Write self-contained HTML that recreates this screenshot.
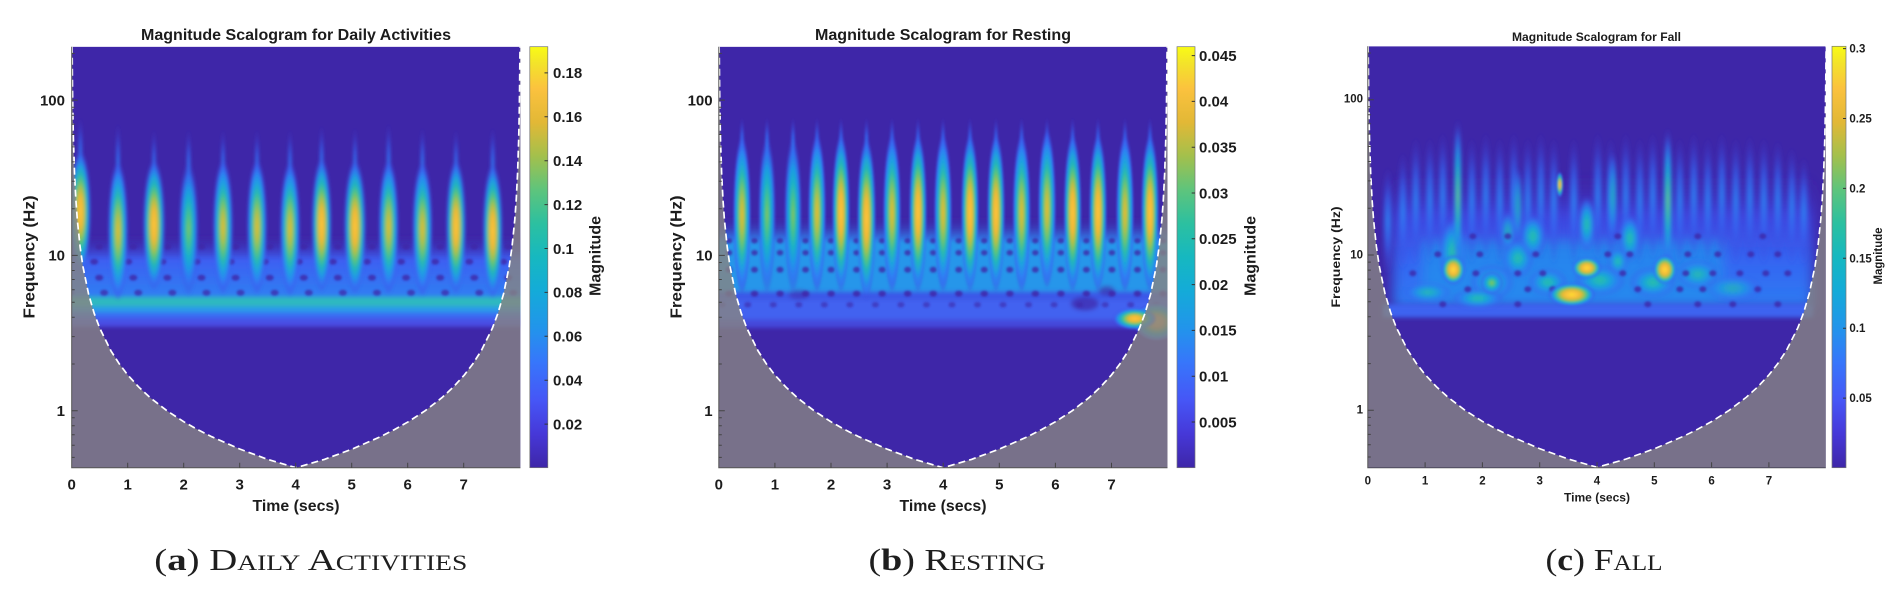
<!DOCTYPE html>
<html><head><meta charset="utf-8">
<style>
html,body{margin:0;padding:0;background:#fff;}
svg{display:block;}
.t{font-family:"Liberation Sans",sans-serif;font-weight:bold;fill:#1c1c1c;}
.cap{font-family:"Liberation Serif",serif;fill:#1e1e1e;}
</style></head><body>
<svg width="1900" height="600" viewBox="0 0 1900 600" xmlns="http://www.w3.org/2000/svg" xmlns:xlink="http://www.w3.org/1999/xlink">
<defs>
<linearGradient id="parula" x1="0" y1="1" x2="0" y2="0">
<stop offset="0" stop-color="#3e26a8"/><stop offset="0.08" stop-color="#4638d8"/><stop offset="0.16" stop-color="#4656f6"/>
<stop offset="0.25" stop-color="#3776fb"/><stop offset="0.33" stop-color="#2294eb"/><stop offset="0.42" stop-color="#14abd8"/>
<stop offset="0.5" stop-color="#16b8c0"/><stop offset="0.58" stop-color="#2cc0a0"/><stop offset="0.66" stop-color="#5ec47c"/>
<stop offset="0.74" stop-color="#a3c04c"/><stop offset="0.82" stop-color="#e2b836"/><stop offset="0.9" stop-color="#fbc23e"/>
<stop offset="0.96" stop-color="#f3e32a"/><stop offset="1" stop-color="#f9fb15"/>
</linearGradient>
<radialGradient id="gHot">
<stop offset="0" stop-color="#fcc63c"/><stop offset="0.24" stop-color="#f2b936"/><stop offset="0.38" stop-color="#b2c048"/>
<stop offset="0.5" stop-color="#5cc47c"/><stop offset="0.62" stop-color="#22b5bb"/><stop offset="0.75" stop-color="#1f9be5"/>
<stop offset="0.88" stop-color="#3470f5" stop-opacity="0.75"/><stop offset="1" stop-color="#3e3fd8" stop-opacity="0"/>
</radialGradient>
<radialGradient id="gWarm">
<stop offset="0" stop-color="#e4bd34"/><stop offset="0.2" stop-color="#b8c046"/><stop offset="0.36" stop-color="#6cc474"/>
<stop offset="0.5" stop-color="#2bbaae"/><stop offset="0.64" stop-color="#1ea3df"/><stop offset="0.79" stop-color="#2d82f4"/>
<stop offset="0.9" stop-color="#3a60f2" stop-opacity="0.65"/><stop offset="1" stop-color="#3e3fd8" stop-opacity="0"/>
</radialGradient>
<radialGradient id="gCool">
<stop offset="0" stop-color="#86c35e"/><stop offset="0.2" stop-color="#4cc387"/><stop offset="0.4" stop-color="#1fb3c4"/>
<stop offset="0.6" stop-color="#1e98e7"/><stop offset="0.78" stop-color="#3174f5" stop-opacity="0.8"/><stop offset="1" stop-color="#3e3fd8" stop-opacity="0"/>
</radialGradient>
<radialGradient id="gCyan">
<stop offset="0" stop-color="#2cc0a0"/><stop offset="0.25" stop-color="#1fb3c4"/><stop offset="0.5" stop-color="#1e98e7"/><stop offset="0.78" stop-color="#3174f5" stop-opacity="0.7"/><stop offset="1" stop-color="#3e3fd8" stop-opacity="0"/>
</radialGradient>
<radialGradient id="gTip">
<stop offset="0" stop-color="#2a8cf0"/><stop offset="0.45" stop-color="#3468f4" stop-opacity="0.75"/><stop offset="1" stop-color="#3e3fd8" stop-opacity="0"/>
</radialGradient>
<radialGradient id="gBlob">
<stop offset="0" stop-color="#fadf2c"/><stop offset="0.2" stop-color="#fbc43c"/><stop offset="0.38" stop-color="#e6b936"/>
<stop offset="0.52" stop-color="#97c252"/><stop offset="0.64" stop-color="#3dc09a"/><stop offset="0.76" stop-color="#1ba6dc"/>
<stop offset="0.88" stop-color="#3270f5" stop-opacity="0.7"/><stop offset="1" stop-color="#3e3fd8" stop-opacity="0"/>
</radialGradient>
<linearGradient id="upA" x1="0" y1="0" x2="0" y2="1">
<stop offset="0" stop-color="#3e26a8" stop-opacity="0"/><stop offset="0.4" stop-color="#3d5ff2"/><stop offset="1" stop-color="#2f7ff3"/>
</linearGradient>
<linearGradient id="upB" x1="0" y1="0" x2="0" y2="1">
<stop offset="0" stop-color="#3e26a8" stop-opacity="0"/><stop offset="1" stop-color="#2f86f0"/>
</linearGradient>
<linearGradient id="upC" x1="0" y1="0" x2="0" y2="1">
<stop offset="0" stop-color="#3e26a8" stop-opacity="0"/><stop offset="0.3" stop-color="#3f4ae8" stop-opacity="0.85"/><stop offset="0.65" stop-color="#3466f2"/><stop offset="1" stop-color="#2c7cf2"/>
</linearGradient>
<filter id="b2" filterUnits="userSpaceOnUse" x="-60" y="-60" width="600" height="560"><feGaussianBlur stdDeviation="2"/></filter>
<filter id="b1" filterUnits="userSpaceOnUse" x="-60" y="-60" width="600" height="560"><feGaussianBlur stdDeviation="1"/></filter>
<filter id="b15" filterUnits="userSpaceOnUse" x="-60" y="-60" width="600" height="560"><feGaussianBlur stdDeviation="1.5"/></filter>
<filter id="b6" filterUnits="userSpaceOnUse" x="-60" y="-60" width="600" height="560"><feGaussianBlur stdDeviation="6"/></filter>
<clipPath id="clipP"><rect x="0" y="0" width="448.7" height="421"/></clipPath>
<clipPath id="clipC"><rect x="0" y="0" width="458" height="421.4"/></clipPath>
<pattern id="dotsA" patternUnits="userSpaceOnUse" x="10.45" y="195" width="34.1" height="60">
<ellipse cx="17" cy="5" rx="4" ry="3" fill="#3e26a8" opacity="0.8"/>
<ellipse cx="12" cy="20" rx="4" ry="3" fill="#3e26a8" opacity="0.8"/>
<ellipse cx="17" cy="36" rx="4" ry="3" fill="#3e26a8" opacity="0.8"/>
<ellipse cx="22" cy="51" rx="4" ry="3" fill="#3e26a8" opacity="0.75"/>
</pattern>
<pattern id="dotsB" patternUnits="userSpaceOnUse" x="22.93" y="188" width="25.53" height="76">
<ellipse cx="12.77" cy="6" rx="3.3" ry="2.8" fill="#3e26a8" opacity="0.8"/>
<ellipse cx="12.77" cy="18" rx="3.3" ry="2.8" fill="#3e26a8" opacity="0.8"/>
<ellipse cx="12.77" cy="35" rx="3.5" ry="3" fill="#3e26a8" opacity="0.8"/>
<ellipse cx="12.77" cy="59" rx="3.8" ry="3" fill="#3e26a8" opacity="0.85"/>
<ellipse cx="6" cy="70" rx="3.5" ry="2.8" fill="#3e26a8" opacity="0.6"/>
</pattern>
<path id="coiFill" d="M0,0 L0.43,0 L0.5,10 L0.8,41.7 L1.12,64.3 L1.68,91.7 L2.8,126.1 L4.2,153.5 L5.6,172.9 L8.4,200.2 L11.2,219.6 L16.8,247 L22.4,266.4 L28,281.4 L39.2,304.1 L47.6,317.2 L56,328.2 L67.2,340.5 L78.4,350.9 L95.2,364 L112,375 L126,382.9 L140,390 L168,402.3 L196,412.7 L224.35,421 L252.7,412.7 L280.7,402.3 L308.7,390 L322.7,382.9 L336.7,375 L353.5,364 L370.3,350.9 L381.5,340.5 L392.7,328.2 L401.1,317.2 L409.5,304.1 L420.7,281.4 L426.3,266.4 L431.9,247 L437.5,219.6 L440.3,200.2 L443.1,172.9 L444.5,153.5 L445.9,126.1 L447.02,91.7 L447.58,64.3 L447.9,41.7 L448.2,10 L448.27,0 L448.7,0 L448.7,421 L0,421 Z"/>
<polyline id="coiLine" points="0.3,0 0.5,10 0.8,41.7 1.12,64.3 1.68,91.7 2.8,126.1 4.2,153.5 5.6,172.9 8.4,200.2 11.2,219.6 16.8,247 22.4,266.4 28,281.4 39.2,304.1 47.6,317.2 56,328.2 67.2,340.5 78.4,350.9 95.2,364 112,375 126,382.9 140,390 168,402.3 196,412.7 224.35,421 252.7,412.7 280.7,402.3 308.7,390 322.7,382.9 336.7,375 353.5,364 370.3,350.9 381.5,340.5 392.7,328.2 401.1,317.2 409.5,304.1 420.7,281.4 426.3,266.4 431.9,247 437.5,219.6 440.3,200.2 443.1,172.9 444.5,153.5 445.9,126.1 447.02,91.7 447.58,64.3 447.9,41.7 448.2,10 448.4,0"/>
<g id="yt">
<path d="M0,53.4h6M0,208.7h6M0,364h6M0,410.7h3M0,398.5h3M0,388.1h3M0,379h3M0,371.1h3M0,317.3h3M0,289.9h3M0,270.5h3M0,255.5h3M0,243.1h3M0,232.8h3M0,223.8h3M0,215.8h3M0,162h3M0,134.6h3M0,115.2h3M0,100.2h3M0,87.8h3M0,77.5h3M0,68.5h3M0,60.5h3M0,6.7h3"/>
</g>
</defs>
<rect width="1900" height="600" fill="#fff"/>

<!-- ================= PANEL A ================= -->
<g transform="translate(71.7,46.7)">
<g clip-path="url(#clipP)">
<rect width="448.7" height="421" fill="#3e26a8"/>
<g filter="url(#b2)">
<rect x="-10" y="188" width="470" height="62" fill="url(#upA)"/>
<rect x="-10" y="250" width="470" height="10" fill="#2db9c0"/>
<rect x="-10" y="260" width="470" height="6" fill="#2a9bec"/>
<rect x="-10" y="266" width="470" height="6" fill="#3a6cf4"/>
<rect x="-10" y="272" width="470" height="8" fill="#4a4fe6"/>
</g>
<rect x="0" y="195" width="448.7" height="60" fill="url(#dotsA)" filter="url(#b1)"/>
<g filter="url(#b15)">
<ellipse cx="8.7" cy="110" rx="3" ry="40" fill="url(#gTip)"/><ellipse cx="8.7" cy="165" rx="10.5" ry="62" fill="url(#gHot)"/>
<ellipse cx="46.3" cy="120" rx="3" ry="44" fill="url(#gTip)"/><ellipse cx="46.3" cy="184" rx="10" ry="70" fill="url(#gWarm)"/>
<ellipse cx="82.3" cy="122" rx="3" ry="40" fill="url(#gTip)"/><ellipse cx="82.3" cy="178" rx="11" ry="66" fill="url(#gHot)"/>
<ellipse cx="116.9" cy="122" rx="3" ry="40" fill="url(#gTip)"/><ellipse cx="116.9" cy="182" rx="10" ry="68" fill="url(#gCool)"/>
<ellipse cx="151.3" cy="122" rx="3" ry="40" fill="url(#gTip)"/><ellipse cx="151.3" cy="180" rx="10" ry="68" fill="url(#gWarm)"/>
<ellipse cx="185.3" cy="122" rx="3" ry="40" fill="url(#gTip)"/><ellipse cx="185.3" cy="180" rx="10" ry="68" fill="url(#gWarm)"/>
<ellipse cx="218.3" cy="122" rx="3" ry="40" fill="url(#gTip)"/><ellipse cx="218.3" cy="182" rx="10" ry="68" fill="url(#gWarm)"/>
<ellipse cx="249.9" cy="118" rx="3" ry="40" fill="url(#gTip)"/><ellipse cx="249.9" cy="178" rx="10" ry="68" fill="url(#gHot)"/>
<ellipse cx="283.3" cy="120" rx="3" ry="40" fill="url(#gTip)"/><ellipse cx="283.3" cy="180" rx="11" ry="68" fill="url(#gHot)"/>
<ellipse cx="316.9" cy="118" rx="3" ry="42" fill="url(#gTip)"/><ellipse cx="316.9" cy="180" rx="10" ry="68" fill="url(#gWarm)"/>
<ellipse cx="350.7" cy="120" rx="3" ry="40" fill="url(#gTip)"/><ellipse cx="350.7" cy="182" rx="10" ry="68" fill="url(#gWarm)"/>
<ellipse cx="384.3" cy="122" rx="3" ry="40" fill="url(#gTip)"/><ellipse cx="384.3" cy="180" rx="10" ry="68" fill="url(#gHot)"/>
<ellipse cx="421" cy="120" rx="3" ry="40" fill="url(#gTip)"/><ellipse cx="421" cy="184" rx="10" ry="68" fill="url(#gHot)"/>
</g>
<use xlink:href="#coiFill" href="#coiFill" fill="#878482" fill-opacity="0.8"/>
</g>
<use xlink:href="#coiLine" href="#coiLine" fill="none" stroke="#fff" stroke-width="1.7" stroke-dasharray="7 4"/>
<path d="M0,0V421H448.7" fill="none" stroke="#555" stroke-width="1"/>
<use xlink:href="#yt" href="#yt" stroke="#444" stroke-width="1"/>
<path d="M56,421v-5M112,421v-5M168,421v-5M224,421v-5M280,421v-5M336,421v-5M392,421v-5" stroke="#444" stroke-width="1"/>
</g>
<rect x="529.8" y="46.7" width="18" height="421" fill="url(#parula)" stroke="#777" stroke-width="0.7"/>
<path d="M544.5,424.1h3.3M544.5,380.2h3.3M544.5,336.3h3.3M544.5,292.4h3.3M544.5,248.5h3.3M544.5,204.6h3.3M544.5,160.7h3.3M544.5,116.8h3.3M544.5,72.9h3.3" stroke="#333" stroke-width="1"/>
<g class="t" font-size="15">
<text x="553" y="429.4">0.02</text><text x="553" y="385.5">0.04</text><text x="553" y="341.6">0.06</text>
<text x="553" y="297.7">0.08</text><text x="553" y="253.8">0.1</text><text x="553" y="209.9">0.12</text>
<text x="553" y="166">0.14</text><text x="553" y="122.1">0.16</text><text x="553" y="78.2">0.18</text>
<text x="65" y="105.3" text-anchor="end">100</text><text x="65" y="260.7" text-anchor="end">10</text><text x="65" y="416" text-anchor="end">1</text>
<g text-anchor="middle">
<text x="71.7" y="489.5">0</text><text x="127.7" y="489.5">1</text><text x="183.7" y="489.5">2</text><text x="239.7" y="489.5">3</text>
<text x="295.7" y="489.5">4</text><text x="351.7" y="489.5">5</text><text x="407.7" y="489.5">6</text><text x="463.7" y="489.5">7</text>
</g>
</g>
<text class="t" x="296" y="40" font-size="16" text-anchor="middle" textLength="310" lengthAdjust="spacingAndGlyphs">Magnitude Scalogram for Daily Activities</text>
<text class="t" x="296" y="511" font-size="16" text-anchor="middle" textLength="87" lengthAdjust="spacingAndGlyphs">Time (secs)</text>
<text class="t" transform="translate(34.5,257) rotate(-90)" font-size="16" text-anchor="middle" textLength="123" lengthAdjust="spacingAndGlyphs">Frequency (Hz)</text>
<text class="t" transform="translate(600.5,256) rotate(-90)" font-size="16" text-anchor="middle" textLength="80" lengthAdjust="spacingAndGlyphs">Magnitude</text>
<text class="cap" x="310.8" y="570" font-size="31" text-anchor="middle" textLength="313" lengthAdjust="spacingAndGlyphs">(<tspan font-weight="bold">a</tspan>) <tspan style="font-variant:small-caps">Daily Activities</tspan></text>

<!-- ================= PANEL B ================= -->
<g transform="translate(718.8,46.7)">
<g clip-path="url(#clipP)">
<rect width="448.7" height="421" fill="#3e26a8"/>
<g filter="url(#b2)">
<rect x="-10" y="170" width="470" height="24" fill="url(#upB)"/>
<rect x="-10" y="194" width="470" height="51" fill="#2896ea"/>
<rect x="-10" y="245" width="470" height="8" fill="#3a58e8"/>
<rect x="-10" y="253" width="470" height="20" fill="#4262f0"/>
<rect x="-10" y="273" width="470" height="8" fill="#4448dc"/>
<ellipse cx="366" cy="257" rx="14" ry="7" fill="#3e26a8" opacity="0.7"/>
<ellipse cx="388" cy="244" rx="8" ry="5" fill="#3e26a8" opacity="0.6"/>
<ellipse cx="80" cy="248" rx="10" ry="5" fill="#3e26a8" opacity="0.5"/>
</g>
<rect x="0" y="188" width="448.7" height="76" fill="url(#dotsB)" filter="url(#b1)"/>
<g filter="url(#b1)">
<ellipse cx="23.2" cy="100" rx="3" ry="30" fill="url(#gTip)"/><ellipse cx="23.2" cy="168" rx="9" ry="80" fill="url(#gWarm)"/>
<ellipse cx="48.2" cy="100" rx="3" ry="30" fill="url(#gTip)"/><ellipse cx="48.2" cy="168" rx="9" ry="80" fill="url(#gCool)"/>
<ellipse cx="74.2" cy="100" rx="3" ry="30" fill="url(#gTip)"/><ellipse cx="74.2" cy="168" rx="9" ry="80" fill="url(#gCool)"/>
<ellipse cx="98.2" cy="100" rx="3" ry="30" fill="url(#gTip)"/><ellipse cx="98.2" cy="166" rx="9" ry="80" fill="url(#gWarm)"/>
<ellipse cx="122.2" cy="100" rx="3" ry="30" fill="url(#gTip)"/><ellipse cx="122.2" cy="166" rx="9" ry="80" fill="url(#gHot)"/>
<ellipse cx="147.7" cy="100" rx="3" ry="30" fill="url(#gTip)"/><ellipse cx="147.7" cy="172" rx="9.5" ry="82" fill="url(#gHot)"/>
<ellipse cx="173.2" cy="100" rx="3" ry="30" fill="url(#gTip)"/><ellipse cx="173.2" cy="166" rx="9" ry="80" fill="url(#gWarm)"/>
<ellipse cx="199.2" cy="100" rx="3" ry="30" fill="url(#gTip)"/><ellipse cx="199.2" cy="166" rx="9" ry="80" fill="url(#gHot)"/>
<ellipse cx="224.2" cy="100" rx="3" ry="30" fill="url(#gTip)"/><ellipse cx="224.2" cy="166" rx="9" ry="80" fill="url(#gWarm)"/>
<ellipse cx="251.2" cy="100" rx="3" ry="30" fill="url(#gTip)"/><ellipse cx="251.2" cy="166" rx="9" ry="80" fill="url(#gHot)"/>
<ellipse cx="277.2" cy="100" rx="3" ry="30" fill="url(#gTip)"/><ellipse cx="277.2" cy="166" rx="9" ry="80" fill="url(#gHot)"/>
<ellipse cx="302.8" cy="100" rx="3" ry="30" fill="url(#gTip)"/><ellipse cx="302.8" cy="166" rx="9" ry="80" fill="url(#gWarm)"/>
<ellipse cx="328.2" cy="100" rx="3" ry="30" fill="url(#gTip)"/><ellipse cx="328.2" cy="162" rx="9" ry="80" fill="url(#gWarm)"/>
<ellipse cx="353.8" cy="100" rx="3" ry="30" fill="url(#gTip)"/><ellipse cx="353.8" cy="166" rx="9" ry="80" fill="url(#gHot)"/>
<ellipse cx="379.2" cy="100" rx="3" ry="30" fill="url(#gTip)"/><ellipse cx="379.2" cy="166" rx="9" ry="80" fill="url(#gHot)"/>
<ellipse cx="406.2" cy="100" rx="3" ry="30" fill="url(#gTip)"/><ellipse cx="406.2" cy="166" rx="9" ry="80" fill="url(#gWarm)"/>
<ellipse cx="431.2" cy="100" rx="3" ry="30" fill="url(#gTip)"/><ellipse cx="431.2" cy="166" rx="9" ry="80" fill="url(#gHot)"/>
</g>
<ellipse cx="438" cy="275" rx="24" ry="20" fill="url(#gHot)" opacity="0.8"/>
<ellipse cx="416" cy="272" rx="22" ry="11" fill="url(#gHot)" filter="url(#b1)"/>
<use xlink:href="#coiFill" href="#coiFill" fill="#878482" fill-opacity="0.8"/>
</g>
<use xlink:href="#coiLine" href="#coiLine" fill="none" stroke="#fff" stroke-width="1.7" stroke-dasharray="7 4"/>
<path d="M0,0V421H448.7" fill="none" stroke="#555" stroke-width="1"/>
<use xlink:href="#yt" href="#yt" stroke="#444" stroke-width="1"/>
<path d="M56.1,421v-5M112.2,421v-5M168.3,421v-5M224.4,421v-5M280.5,421v-5M336.6,421v-5M392.7,421v-5" stroke="#444" stroke-width="1"/>
</g>
<rect x="1177" y="46.7" width="18" height="421" fill="url(#parula)" stroke="#777" stroke-width="0.7"/>
<path d="M1191.7,422h3.3M1191.7,376.2h3.3M1191.7,330.4h3.3M1191.7,284.6h3.3M1191.7,238.8h3.3M1191.7,193h3.3M1191.7,147.2h3.3M1191.7,101.4h3.3M1191.7,55.6h3.3" stroke="#333" stroke-width="1"/>
<g class="t" font-size="15">
<text x="1199" y="427.3">0.005</text><text x="1199" y="381.5">0.01</text><text x="1199" y="335.7">0.015</text>
<text x="1199" y="289.9">0.02</text><text x="1199" y="244.1">0.025</text><text x="1199" y="198.3">0.03</text>
<text x="1199" y="152.5">0.035</text><text x="1199" y="106.7">0.04</text><text x="1199" y="60.9">0.045</text>
<text x="712.6" y="105.3" text-anchor="end">100</text><text x="712.6" y="260.7" text-anchor="end">10</text><text x="712.6" y="416" text-anchor="end">1</text>
<g text-anchor="middle">
<text x="718.8" y="489.5">0</text><text x="774.9" y="489.5">1</text><text x="831" y="489.5">2</text><text x="887.1" y="489.5">3</text>
<text x="943.2" y="489.5">4</text><text x="999.3" y="489.5">5</text><text x="1055.4" y="489.5">6</text><text x="1111.5" y="489.5">7</text>
</g>
</g>
<text class="t" x="943" y="40" font-size="16" text-anchor="middle" textLength="256" lengthAdjust="spacingAndGlyphs">Magnitude Scalogram for Resting</text>
<text class="t" x="943" y="511" font-size="16" text-anchor="middle" textLength="87" lengthAdjust="spacingAndGlyphs">Time (secs)</text>
<text class="t" transform="translate(681.5,257) rotate(-90)" font-size="16" text-anchor="middle" textLength="123" lengthAdjust="spacingAndGlyphs">Frequency (Hz)</text>
<text class="t" transform="translate(1255.5,256) rotate(-90)" font-size="16" text-anchor="middle" textLength="80" lengthAdjust="spacingAndGlyphs">Magnitude</text>
<text class="cap" x="957" y="570" font-size="31" text-anchor="middle" textLength="177" lengthAdjust="spacingAndGlyphs">(<tspan font-weight="bold">b</tspan>) <tspan style="font-variant:small-caps">Resting</tspan></text>

<!-- ================= PANEL C ================= -->
<g transform="translate(1367.8,46.3)">
<g clip-path="url(#clipC)">
<rect width="458" height="421.4" fill="#3e26a8"/>
<g filter="url(#b6)">
<rect x="25" y="130" width="420" height="132" fill="url(#upC)"/>
<rect x="55" y="195" width="300" height="60" fill="#2490ec" opacity="0.75"/>
</g>
<g filter="url(#b2)">
<ellipse cx="20" cy="175" rx="6" ry="55" fill="url(#gTip)"/><ellipse cx="35" cy="165" rx="6" ry="60" fill="url(#gTip)"/>
<ellipse cx="48" cy="155" rx="6" ry="65" fill="url(#gTip)"/><ellipse cx="62" cy="155" rx="6" ry="65" fill="url(#gTip)"/>
<ellipse cx="75" cy="150" rx="6" ry="65" fill="url(#gTip)"/><ellipse cx="104" cy="155" rx="6" ry="65" fill="url(#gTip)"/>
<ellipse cx="118" cy="150" rx="6" ry="65" fill="url(#gTip)"/><ellipse cx="132" cy="155" rx="6" ry="65" fill="url(#gTip)"/>
<ellipse cx="146" cy="150" rx="6" ry="65" fill="url(#gTip)"/><ellipse cx="160" cy="155" rx="6" ry="65" fill="url(#gTip)"/>
<ellipse cx="173" cy="150" rx="6" ry="65" fill="url(#gTip)"/><ellipse cx="186" cy="155" rx="6" ry="65" fill="url(#gTip)"/>
<ellipse cx="206" cy="155" rx="6" ry="65" fill="url(#gTip)"/><ellipse cx="230" cy="150" rx="6" ry="65" fill="url(#gTip)"/>
<ellipse cx="243" cy="155" rx="6" ry="65" fill="url(#gTip)"/><ellipse cx="258" cy="150" rx="6" ry="65" fill="url(#gTip)"/>
<ellipse cx="272" cy="155" rx="6" ry="65" fill="url(#gTip)"/><ellipse cx="285" cy="150" rx="6" ry="65" fill="url(#gTip)"/>
<ellipse cx="312" cy="155" rx="6" ry="65" fill="url(#gTip)"/><ellipse cx="326" cy="150" rx="6" ry="65" fill="url(#gTip)"/>
<ellipse cx="340" cy="155" rx="6" ry="65" fill="url(#gTip)"/><ellipse cx="354" cy="150" rx="6" ry="65" fill="url(#gTip)"/>
<ellipse cx="368" cy="155" rx="6" ry="65" fill="url(#gTip)"/><ellipse cx="382" cy="153" rx="6" ry="65" fill="url(#gTip)"/>
<ellipse cx="396" cy="155" rx="6" ry="65" fill="url(#gTip)"/><ellipse cx="410" cy="155" rx="6" ry="62" fill="url(#gTip)"/>
<ellipse cx="424" cy="160" rx="6" ry="60" fill="url(#gTip)"/><ellipse cx="436" cy="165" rx="6" ry="55" fill="url(#gTip)"/>
</g>
<rect x="15" y="258" width="430" height="13" fill="#3d63f0" filter="url(#b2)"/>
<g filter="url(#b2)">
<ellipse cx="85" cy="205" rx="14" ry="34" fill="url(#gCyan)"/>
<ellipse cx="124" cy="236" rx="22" ry="18" fill="url(#gCyan)"/>
<ellipse cx="150" cy="212" rx="16" ry="20" fill="url(#gCyan)"/>
<ellipse cx="165" cy="190" rx="13" ry="22" fill="url(#gCyan)"/>
<ellipse cx="180" cy="236" rx="20" ry="14" fill="url(#gCyan)"/>
<ellipse cx="219" cy="178" rx="9" ry="28" fill="url(#gCyan)"/>
<ellipse cx="232" cy="234" rx="26" ry="16" fill="url(#gCyan)"/>
<ellipse cx="262" cy="192" rx="11" ry="24" fill="url(#gCyan)"/>
<ellipse cx="285" cy="236" rx="24" ry="16" fill="url(#gCyan)"/>
<ellipse cx="330" cy="228" rx="22" ry="15" fill="url(#gCyan)" opacity="0.85"/>
<ellipse cx="365" cy="242" rx="28" ry="13" fill="url(#gCyan)" opacity="0.7"/>
<ellipse cx="110" cy="252" rx="26" ry="10" fill="url(#gCyan)"/>
<ellipse cx="60" cy="246" rx="24" ry="10" fill="url(#gCyan)" opacity="0.85"/>
<ellipse cx="140" cy="185" rx="8" ry="20" fill="url(#gCyan)" opacity="0.8"/>
<ellipse cx="250" cy="215" rx="10" ry="14" fill="url(#gCyan)"/>
<ellipse cx="90" cy="150" rx="4.5" ry="78" fill="url(#gCool)"/>
<ellipse cx="300" cy="155" rx="5" ry="74" fill="url(#gCool)"/>
<ellipse cx="150" cy="160" rx="5" ry="40" fill="url(#gCyan)" opacity="0.8"/>
<ellipse cx="245" cy="150" rx="5" ry="45" fill="url(#gCyan)" opacity="0.8"/>
</g>
<g fill="#3e26a8" opacity="0.8" filter="url(#b1)">
<ellipse cx="105" cy="190" rx="3.5" ry="3"/><ellipse cx="140" cy="190" rx="3.5" ry="3"/><ellipse cx="250" cy="190" rx="3.5" ry="3"/><ellipse cx="330" cy="190" rx="3.5" ry="3"/><ellipse cx="395" cy="190" rx="3.5" ry="3"/>
<ellipse cx="70" cy="208" rx="3.5" ry="3"/><ellipse cx="112" cy="208" rx="3.5" ry="3"/><ellipse cx="168" cy="208" rx="3.5" ry="3"/><ellipse cx="240" cy="208" rx="3.5" ry="3"/><ellipse cx="262" cy="208" rx="3.5" ry="3"/><ellipse cx="320" cy="208" rx="3.5" ry="3"/><ellipse cx="350" cy="208" rx="3.5" ry="3"/><ellipse cx="383" cy="208" rx="3.5" ry="3"/><ellipse cx="410" cy="208" rx="3.5" ry="3"/>
<ellipse cx="45" cy="227" rx="3.5" ry="3"/><ellipse cx="108" cy="227" rx="3.5" ry="3"/><ellipse cx="150" cy="227" rx="3.5" ry="3"/><ellipse cx="175" cy="227" rx="3.5" ry="3"/><ellipse cx="255" cy="227" rx="3.5" ry="3"/><ellipse cx="318" cy="227" rx="3.5" ry="3"/><ellipse cx="345" cy="227" rx="3.5" ry="3"/><ellipse cx="372" cy="227" rx="3.5" ry="3"/><ellipse cx="398" cy="227" rx="3.5" ry="3"/><ellipse cx="420" cy="227" rx="3.5" ry="3"/>
<ellipse cx="100" cy="243" rx="3.5" ry="3"/><ellipse cx="160" cy="243" rx="3.5" ry="3"/><ellipse cx="185" cy="243" rx="3.5" ry="3"/><ellipse cx="270" cy="243" rx="3.5" ry="3"/><ellipse cx="312" cy="243" rx="3.5" ry="3"/><ellipse cx="335" cy="243" rx="3.5" ry="3"/><ellipse cx="390" cy="243" rx="3.5" ry="3"/>
<ellipse cx="75" cy="258" rx="3.5" ry="3"/><ellipse cx="150" cy="258" rx="3.5" ry="3"/><ellipse cx="280" cy="258" rx="3.5" ry="3"/><ellipse cx="330" cy="258" rx="3.5" ry="3"/><ellipse cx="365" cy="258" rx="3.5" ry="3"/><ellipse cx="410" cy="258" rx="3.5" ry="3"/>
</g>
<g filter="url(#b1)">
<ellipse cx="85.5" cy="223.3" rx="12" ry="15" fill="url(#gBlob)"/>
<ellipse cx="124" cy="236.6" rx="12" ry="12" fill="url(#gCool)"/>
<ellipse cx="219" cy="221.6" rx="15" ry="11" fill="url(#gBlob)"/>
<ellipse cx="204" cy="248.3" rx="24" ry="12" fill="url(#gBlob)"/>
<ellipse cx="297" cy="223.3" rx="12" ry="15" fill="url(#gBlob)"/>
<ellipse cx="192" cy="138.3" rx="3.5" ry="13" fill="url(#gHot)"/>
</g>
<g transform="scale(1.0223,1)">
<use xlink:href="#coiFill" href="#coiFill" fill="#878482" fill-opacity="0.8"/>
</g>
</g>
<g transform="scale(1.0223,1)">
<use xlink:href="#coiLine" href="#coiLine" fill="none" stroke="#fff" stroke-width="1.6" stroke-dasharray="7 4" vector-effect="non-scaling-stroke"/>
</g>
<path d="M0,0V421.4H458" fill="none" stroke="#555" stroke-width="1"/>
<use xlink:href="#yt" href="#yt" stroke="#444" stroke-width="1"/>
<path d="M57.3,421v-5M114.6,421v-5M171.9,421v-5M229.2,421v-5M286.5,421v-5M343.8,421v-5M401.1,421v-5" stroke="#444" stroke-width="1"/>
</g>
<rect x="1832" y="46.3" width="14" height="421.4" fill="url(#parula)" stroke="#777" stroke-width="0.7"/>
<path d="M1843,398.1h3M1843,328.2h3M1843,258.3h3M1843,188.4h3M1843,118.5h3M1843,48.6h3" stroke="#333" stroke-width="1"/>
<g class="t" font-size="11.5">
<text x="1849.4" y="402.1">0.05</text><text x="1849.4" y="332.2">0.1</text><text x="1849.4" y="262.3">0.15</text>
<text x="1849.4" y="192.4">0.2</text><text x="1849.4" y="122.5">0.25</text><text x="1849.4" y="52.6">0.3</text>
<text x="1363" y="102.7" text-anchor="end">100</text><text x="1363" y="258.5" text-anchor="end">10</text><text x="1363" y="413.5" text-anchor="end">1</text>
<g text-anchor="middle">
<text x="1367.8" y="484.5">0</text><text x="1425.1" y="484.5">1</text><text x="1482.4" y="484.5">2</text><text x="1539.7" y="484.5">3</text>
<text x="1597" y="484.5">4</text><text x="1654.3" y="484.5">5</text><text x="1711.6" y="484.5">6</text><text x="1768.9" y="484.5">7</text>
</g>
</g>
<text class="t" x="1596.5" y="41" font-size="12" text-anchor="middle" textLength="169" lengthAdjust="spacingAndGlyphs">Magnitude Scalogram for Fall</text>
<text class="t" x="1597" y="501.5" font-size="12" text-anchor="middle" textLength="66" lengthAdjust="spacingAndGlyphs">Time (secs)</text>
<text class="t" transform="translate(1339.8,257) rotate(-90)" font-size="12" text-anchor="middle" textLength="101" lengthAdjust="spacingAndGlyphs">Frequency (Hz)</text>
<text class="t" transform="translate(1882,256) rotate(-90)" font-size="11.5" text-anchor="middle" textLength="57" lengthAdjust="spacingAndGlyphs">Magnitude</text>
<text class="cap" x="1604" y="570" font-size="31" text-anchor="middle" textLength="117" lengthAdjust="spacingAndGlyphs">(<tspan font-weight="bold">c</tspan>) <tspan style="font-variant:small-caps">Fall</tspan></text>
</svg>
</body></html>
